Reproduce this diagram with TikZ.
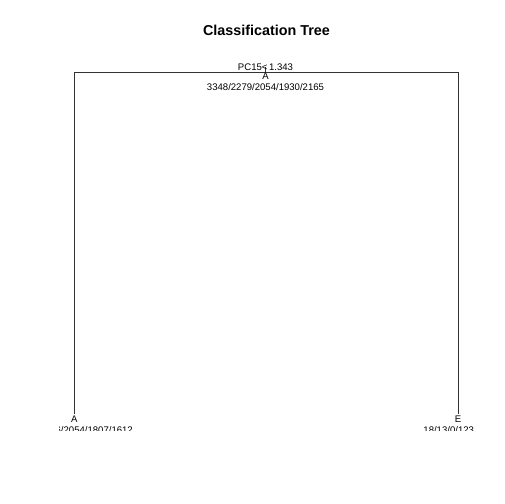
\documentclass[tikz,border=0pt]{standalone}
\usepackage{fontspec}
\setmainfont{Liberation Sans}
\begin{document}
\begin{tikzpicture}[x=1bp,y=-1bp,
  lbl/.style={inner sep=0pt,font=\fontsize{9.6}{11}\selectfont,anchor=base},
  ttl/.style={inner sep=0pt,font=\fontsize{14.4}{17}\selectfont\bfseries,anchor=base},
  br/.style={line width=0.75bp,draw=black!80}]
\fill[white] (0,0) rectangle (504,504);
\useasboundingbox (0,0) rectangle (504,504);
\node[ttl] (title) at (266.5,35.5) {Classification Tree};
\coordinate (root) at (265.5,72.7);
\coordinate (rtop) at (265.5,67.5);
\coordinate (lc) at (74.3,72.7);
\coordinate (rc) at (458,72.7);
\coordinate (leafA) at (74.3,414.3);
\coordinate (leafE) at (458,414.3);
\begin{scope}
\clip (59.04,59.04) rectangle (473.76,430.8);
\draw[br] (leafA) -- (lc) -- (rc) -- (leafE);
\draw[br] (rtop) -- (root);
\node[lbl] (split) at (265.5,70.3) {PC15<\,1.343};
\node[lbl] (rootcls) at (265.5,79.8) {A};
\node[lbl] (rootn) at (265.5,91) {3348/2279/2054/1930/2165};
\node[lbl] (Acls) at (74.3,422.3) {A};
\node[lbl] (An) at (74.3,433.5) {3330/2266/2054/1807/1612};
\node[lbl] (Ecls) at (458,422.3) {E};
\node[lbl] (En) at (458,433.5) {18/13/0/123/553};
\end{scope}
\end{tikzpicture}
\end{document}
